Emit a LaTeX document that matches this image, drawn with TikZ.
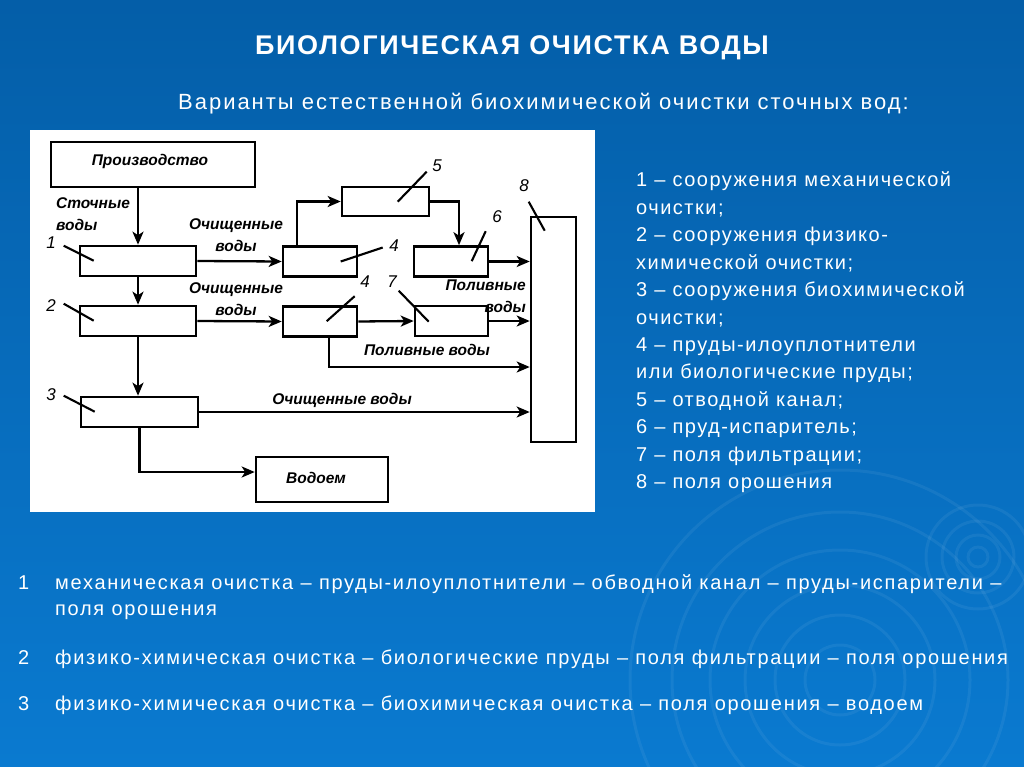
\documentclass[tikz,border=0pt]{standalone}
\usepackage{fontspec}
\setmainfont{Liberation Sans}
\usetikzlibrary{arrows.meta,calc}
\definecolor{slidetop}{RGB}{4,94,168}
\definecolor{slidebottom}{RGB}{10,122,208}
\tikzset{
  blok/.style={draw=black,line width=2.6pt,fill=white,inner sep=0pt},
  flow/.style={-{Stealth[length=13pt,width=11pt,inset=3.5pt]},line width=2.3pt},
  leader/.style={line width=2.1pt},
  tag/.style={font=\fontsize{15.5}{22}\selectfont\bfseries\itshape,inner sep=0pt},
  numtag/.style={font=\fontsize{17}{18}\selectfont\itshape,inner sep=0pt},
  slidetxt/.style={text=white,inner sep=0pt,anchor=base west},
  ripple/.style={draw=white,opacity=0.06,line width=3pt}
}

\begin{document}
\begin{tikzpicture}[x=1pt,y=-1pt]
  \useasboundingbox (0,0) rectangle (1024,767);
  \shade[top color=slidetop,bottom color=slidebottom] (0,0) rectangle (1024,767);

  % ripples
  \begin{scope}
    \clip (0,0) rectangle (1024,767);
    \foreach \r in {35,65,95,130,168,210}
      \draw[ripple] (840,680) circle (\r);
    \foreach \r in {10,22,36,52}
      \draw[ripple] (978,557) circle (\r);
  \end{scope}

  % titles
  \node[text=white,font=\fontsize{27}{30}\selectfont\bfseries\addfontfeature{LetterSpace=6},
    inner sep=0pt,anchor=base] (title) at (512,55) {БИОЛОГИЧЕСКАЯ  ОЧИСТКА  ВОДЫ};
  \node[slidetxt,font=\fontsize{22}{24}\selectfont\addfontfeature{LetterSpace=9}] (sub)
    at (178,110) {Варианты естественной биохимической очистки сточных вод:};

  % scheme
  \fill[white] (30,130) rectangle (595,512);
  \node[blok,minimum width=204pt,minimum height=45pt] (prod) at (153,164.5) {};
  \node[tag,font=\fontsize{15.5}{16}\selectfont\bfseries\itshape] at (150,161) {Производство};
  \node[blok,minimum width=116pt,minimum height=30pt] (b1) at (138,261) {};
  \node[blok,minimum width=116pt,minimum height=30pt] (b2) at (138,321) {};
  \node[blok,minimum width=117pt,minimum height=30pt] (b3) at (139.5,412) {};
  \node[blok,minimum width=74pt,minimum height=30pt] (b4a) at (320,261.5) {};
  \node[blok,minimum width=74pt,minimum height=30pt] (b4b) at (320,321.5) {};
  \node[blok,minimum width=87pt,minimum height=29pt] (b5) at (385.5,201.5) {};
  \node[blok,minimum width=74pt,minimum height=30pt] (b6) at (451,261.5) {};
  \node[blok,minimum width=73pt,minimum height=30pt] (b7) at (451.5,321) {};
  \node[blok,minimum width=45pt,minimum height=225pt] (b8) at (553.5,329.5) {};
  \node[blok,minimum width=132pt,minimum height=45pt] (vod) at (322,479.5) {};
  \node[tag] at (316,478) {Водоем};

  % flows
  \draw[flow] (b1.north |- prod.south) -- (b1.north);
  \draw[flow] (b1.south) -- (b2.north);
  \draw[flow] (b2.south) -- (b3.north -| b2.south);
  \draw[flow] (b1.east) -- (b4a.west);
  \draw[flow] ([xshift=15pt]b4a.north west) |- (b5.west);
  \draw[flow] (b5.east) -| ([xshift=8pt]b6.north);
  \draw[flow] (b6.east) -- (b6.east -| b8.west);
  \draw[flow] (b2.east) -- (b4b.west);
  \draw[flow] (b4b.east) -- (b7.west);
  \draw[flow] (b7.east) -- (b7.east -| b8.west);
  \draw[flow] ([xshift=9pt]b4b.south) |- ([yshift=-37.5pt]b8.west);
  \draw[flow] (b3.east) -- (b3.east -| b8.west);
  \draw[flow] (b3.south) |- ([yshift=7.5pt]vod.west);

  % flow labels
  \node[tag,align=left,anchor=north west] (stok) at (56,197) {Сточные\\воды};
  \node[tag,align=center] (och1) at (236,235) {Очищенные\\воды};
  \node[tag,align=center] (och2) at (236,299) {Очищенные\\воды};
  \node[tag,align=right,anchor=east] (pol1) at (526,296) {Поливные\\воды};
  \node[tag] (pol2) at (427,350) {Поливные воды};
  \node[tag] (och3) at (342,400) {Очищенные  воды};

  % numbers with leaders
  \node[numtag] (n1) at (51,243) {1};
  \draw[leader] ($(b1.north west)+(-15,1)$) -- ++(30,15);
  \node[numtag] (n2) at (51,306) {2};
  \draw[leader] ($(b2.north west)+(-15,-1)$) -- ++(30,17);
  \node[numtag] (n3) at (51,395) {3};
  \draw[leader] ($(b3.north west)+(-16,0)$) -- ++(31,16);
  \node[numtag] (n4a) at (394,246) {4};
  \draw[leader] ($(b4a.west)+(59,0)$) -- ++(42,-14);
  \node[numtag] (n4b) at (365,282) {4};
  \draw[leader] ($(b4b.north west)+(45,16)$) -- ++(28,-25);
  \node[numtag] (n5) at (437,166) {5};
  \draw[leader] ($(b5.north west)+(57,16)$) -- ++(29,-30);
  \node[numtag] (n6) at (497,217) {6};
  \draw[leader] ($(b6.north west)+(59,16)$) -- ++(14,-30);
  \node[numtag] (n7) at (392,282) {7};
  \draw[leader] ($(b7.north west)+(-15,-14)$) -- ++(30,31);
  \node[numtag] (n8) at (524,186) {8};
  \draw[leader] ($(b8.north west)+(-1,-14)$) -- ++(16,29);

  % legend
  \foreach \txt [count=\i from 0] in {1 – сооружения механической,очистки;,
      2 – сооружения физико-,химической очистки;,3 – сооружения биохимической,
      очистки;,4 – пруды-илоуплотнители,или биологические  пруды;,
      5 – отводной канал;,6 – пруд-испаритель;,7 – поля фильтрации;,8 – поля орошения}
    \node[slidetxt,font=\fontsize{20}{22}\selectfont\addfontfeature{LetterSpace=7.5}]
      (leg\i) at (636,187+27.4*\i) {\txt};

  % variants
  \tikzset{vartxt/.style={slidetxt,font=\fontsize{20}{22}\selectfont\addfontfeature{LetterSpace=8.5}}}
  \node[vartxt] (v1n) at (18,589) {1};
  \node[vartxt] (v1) at (55,589)
    {механическая очистка – пруды-илоуплотнители – обводной канал –  пруды-испарители –};
  \node[vartxt] (v1b) at (55,615) {поля орошения};
  \node[vartxt] (v2n) at (18,664) {2};
  \node[vartxt] (v2) at (55,664)
    {физико-химическая очистка – биологические пруды – поля фильтрации –  поля орошения};
  \node[vartxt] (v3n) at (18,710) {3};
  \node[vartxt] (v3) at (55,710)
    {физико-химическая очистка – биохимическая очистка – поля орошения – водоем};
\end{tikzpicture}
\end{document}
